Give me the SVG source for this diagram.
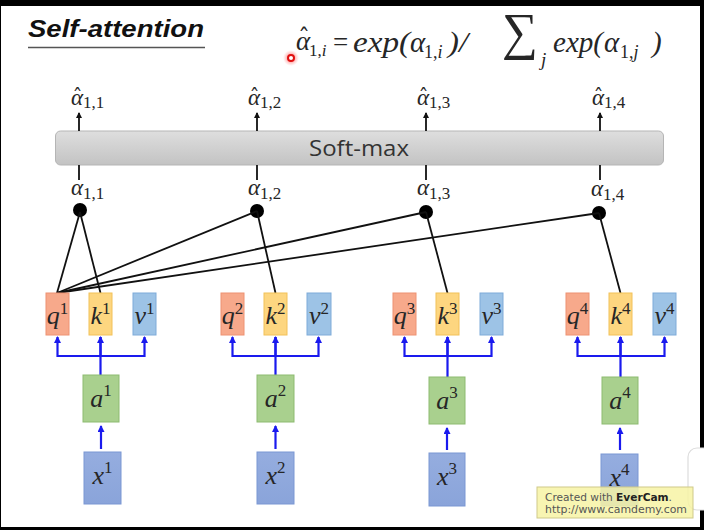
<svg xmlns="http://www.w3.org/2000/svg" width="704" height="530" viewBox="0 0 704 530">
<defs>
<style>
.math{font-family:"Liberation Serif","DejaVu Serif",serif;font-style:italic;fill:#262626}
.sub{font-family:"Liberation Serif","DejaVu Serif",serif;font-style:normal;fill:#262626}
.hat{font-family:"DejaVu Serif",serif;font-style:normal;fill:#262626}
.lbl{font-family:"Liberation Serif","DejaVu Serif",serif;font-style:italic;font-size:26px;fill:#262626;text-anchor:middle}
.q{fill:#f7a98b;stroke:#ee9272;stroke-width:1}
.k{fill:#fdd680;stroke:#f2c158;stroke-width:1}
.v{fill:#9dc3e6;stroke:#7eabd9;stroke-width:1}
.a{fill:#a9d08e;stroke:#8dbb70;stroke-width:1}
.x{fill:url(#xg);stroke:#7b97d3;stroke-width:1}
.blk{stroke:#111;stroke-width:1.8;fill:none}
.blu{stroke:#1a1aee;stroke-width:2.2;fill:none}
.dot{fill:#000}
</style>
<linearGradient id="sg" x1="0" y1="0" x2="0" y2="1"><stop offset="0" stop-color="#dedede"/><stop offset="1" stop-color="#c3c3c3"/></linearGradient>
<linearGradient id="xg" x1="0" y1="0" x2="0" y2="1"><stop offset="0" stop-color="#95addf"/><stop offset="1" stop-color="#8aa4da"/></linearGradient>
<radialGradient id="glow"><stop offset="0.3" stop-color="#ff4040" stop-opacity="0.6"/><stop offset="1" stop-color="#ff8080" stop-opacity="0"/></radialGradient>
<marker id="ab" markerWidth="6" markerHeight="6" refX="5" refY="3" orient="auto" markerUnits="userSpaceOnUse"><path d="M0,0 L6,3 L0,6 z" fill="#111"/></marker>
<marker id="au" markerWidth="7" markerHeight="7" refX="6" refY="3.5" orient="auto" markerUnits="userSpaceOnUse"><path d="M0,0 L7,3.5 L0,7 z" fill="#1a1aee"/></marker>
</defs>
<rect x="0" y="0" width="704" height="530" fill="#000"/>
<rect x="1" y="6" width="699" height="521" fill="#fff"/>

<g id="title">
<text x="28" y="37" font-family="'Liberation Sans',Arial,sans-serif" font-weight="bold" font-style="italic" font-size="23" fill="#111" textLength="176" lengthAdjust="spacingAndGlyphs">Self-attention</text>
<line x1="28" y1="47.5" x2="205" y2="47.5" stroke="#555" stroke-width="1.6"/>
</g>

<g id="pointer">
<circle cx="291" cy="58" r="8" fill="url(#glow)"/>
<circle cx="291" cy="58" r="3" fill="#fff" stroke="#e01010" stroke-width="2"/>
</g>

<g id="formula">
<text class="math" x="296" y="50" font-size="27">α<tspan class="hat" x="298" y="46" font-size="24">ˆ</tspan><tspan class="sub" x="309" y="56" font-size="17">1,</tspan><tspan class="sub" style="font-style:italic" font-size="17">i</tspan></text>
<text class="sub" x="333" y="51" font-size="27">=</text>
<text class="math" x="353" y="52" font-size="29" textLength="57" lengthAdjust="spacingAndGlyphs">exp(</text>
<text class="math" x="410" y="52" font-size="29">α</text>
<text class="sub" x="424" y="58" font-size="18">1,<tspan style="font-style:italic">i</tspan></text>
<text class="math" x="448" y="52" font-size="29" textLength="20" lengthAdjust="spacingAndGlyphs">)/</text>
<text class="sub" x="502" y="49" font-size="52" font-family="'DejaVu Serif',serif" textLength="36" lengthAdjust="spacingAndGlyphs">∑</text>
<text class="math" x="541" y="66" font-size="19">j</text>
<text class="math" x="553" y="52" font-size="29" textLength="50" lengthAdjust="spacingAndGlyphs">exp(</text>
<text class="math" x="604" y="52" font-size="29">α</text>
<text class="sub" x="620" y="58" font-size="18">1,<tspan style="font-style:italic">j</tspan></text>
<text class="math" x="652" y="52" font-size="29">)</text>
</g>

<g id="outputs">
<text x="71" y="105"><tspan class="math" font-size="23">α</tspan><tspan class="sub" font-size="17" dy="3">1,1</tspan><tspan class="hat" x="72.5" y="104" font-size="20">ˆ</tspan></text>
<text x="248" y="105"><tspan class="math" font-size="23">α</tspan><tspan class="sub" font-size="17" dy="3">1,2</tspan><tspan class="hat" x="249.5" y="104" font-size="20">ˆ</tspan></text>
<text x="417" y="105"><tspan class="math" font-size="23">α</tspan><tspan class="sub" font-size="17" dy="3">1,3</tspan><tspan class="hat" x="418.5" y="104" font-size="20">ˆ</tspan></text>
<text x="592" y="105"><tspan class="math" font-size="23">α</tspan><tspan class="sub" font-size="17" dy="3">1,4</tspan><tspan class="hat" x="593.5" y="104" font-size="20">ˆ</tspan></text>
</g>

<g id="softmax">
<rect x="55.5" y="131" width="608" height="34" rx="5" fill="url(#sg)" stroke="#b5b5b5" stroke-width="1"/>
<text x="359" y="156" font-family="'Open Sans','Liberation Sans',sans-serif" font-size="21" fill="#333" text-anchor="middle" textLength="100" lengthAdjust="spacingAndGlyphs">Soft-max</text>
</g>

<g id="scores">
<text x="71" y="195"><tspan class="math" font-size="23">α</tspan><tspan class="sub" font-size="17" dy="4">1,1</tspan></text>
<text x="248" y="195"><tspan class="math" font-size="23">α</tspan><tspan class="sub" font-size="17" dy="4">1,2</tspan></text>
<text x="417" y="195"><tspan class="math" font-size="23">α</tspan><tspan class="sub" font-size="17" dy="4">1,3</tspan></text>
<text x="591" y="196"><tspan class="math" font-size="23">α</tspan><tspan class="sub" font-size="17" dy="4">1,4</tspan></text>
</g>

<g id="dot1"><circle class="dot" cx="80" cy="210" r="7"/></g>
<g id="dot2"><circle class="dot" cx="257" cy="211" r="7"/></g>
<g id="dot3"><circle class="dot" cx="426" cy="212" r="7"/></g>
<g id="dot4"><circle class="dot" cx="599" cy="213" r="7"/></g>

<g id="connectors">
<line class="blk" x1="79" y1="131" x2="79" y2="113" marker-end="url(#ab)"/>
<line class="blk" x1="257" y1="131" x2="257" y2="113" marker-end="url(#ab)"/>
<line class="blk" x1="426" y1="131" x2="426" y2="113" marker-end="url(#ab)"/>
<line class="blk" x1="600" y1="131" x2="600" y2="113" marker-end="url(#ab)"/>
<line class="blk" x1="79" y1="165" x2="79" y2="180"/>
<line class="blk" x1="257" y1="165" x2="257" y2="180"/>
<line class="blk" x1="426" y1="165" x2="426" y2="180"/>
<line class="blk" x1="600" y1="165" x2="600" y2="180"/>

<line class="blk" x1="57" y1="293" x2="80" y2="212"/>
<line class="blk" x1="57" y1="293" x2="257" y2="211"/>
<line class="blk" x1="57" y1="293" x2="426" y2="212"/>
<line class="blk" x1="57" y1="293" x2="599" y2="213"/>
<line class="blk" x1="100.5" y1="293" x2="80" y2="212"/>
<line class="blk" x1="275.5" y1="293" x2="257" y2="211"/>
<line class="blk" x1="447.5" y1="293" x2="426" y2="212"/>
<line class="blk" x1="620.5" y1="293" x2="599" y2="213"/>

<path class="blu" d="M57.5,356 H144.5 M100.5,376 V337"/>
<line class="blu" x1="57.5" y1="357" x2="57.5" y2="337" marker-end="url(#au)"/>
<line class="blu" x1="100.5" y1="356" x2="100.5" y2="337" marker-end="url(#au)"/>
<line class="blu" x1="144.5" y1="357" x2="144.5" y2="337" marker-end="url(#au)"/>
<path class="blu" d="M232.5,356 H318.5 M275.5,376 V337"/>
<line class="blu" x1="232.5" y1="357" x2="232.5" y2="337" marker-end="url(#au)"/>
<line class="blu" x1="275.5" y1="356" x2="275.5" y2="337" marker-end="url(#au)"/>
<line class="blu" x1="318.5" y1="357" x2="318.5" y2="337" marker-end="url(#au)"/>
<path class="blu" d="M404.5,356 H491.5 M447.5,377 V337"/>
<line class="blu" x1="404.5" y1="357" x2="404.5" y2="337" marker-end="url(#au)"/>
<line class="blu" x1="447.5" y1="356" x2="447.5" y2="337" marker-end="url(#au)"/>
<line class="blu" x1="491.5" y1="357" x2="491.5" y2="337" marker-end="url(#au)"/>
<path class="blu" d="M577.5,356 H664.5 M620.5,377 V337"/>
<line class="blu" x1="577.5" y1="357" x2="577.5" y2="337" marker-end="url(#au)"/>
<line class="blu" x1="620.5" y1="356" x2="620.5" y2="337" marker-end="url(#au)"/>
<line class="blu" x1="664.5" y1="357" x2="664.5" y2="337" marker-end="url(#au)"/>

<line class="blu" x1="101" y1="449" x2="101" y2="426" marker-end="url(#au)"/>
<line class="blu" x1="275.5" y1="449" x2="275.5" y2="426" marker-end="url(#au)"/>
<line class="blu" x1="447" y1="450" x2="447" y2="428" marker-end="url(#au)"/>
<line class="blu" x1="620" y1="450" x2="620" y2="428" marker-end="url(#au)"/>
</g>

<g id="q1"><rect class="q" x="46" y="293" width="23" height="42"/><text class="lbl" x="57.5" y="324">q<tspan class="sub" font-size="17" dy="-10">1</tspan></text></g>
<g id="k1"><rect class="k" x="89" y="293" width="23" height="42"/><text class="lbl" x="100.5" y="324">k<tspan class="sub" font-size="17" dy="-10">1</tspan></text></g>
<g id="v1"><rect class="v" x="133" y="293" width="23" height="42"/><text class="lbl" x="144.5" y="324">v<tspan class="sub" font-size="17" dy="-10">1</tspan></text></g>
<g id="q2"><rect class="q" x="221" y="293" width="23" height="42"/><text class="lbl" x="232.5" y="324">q<tspan class="sub" font-size="17" dy="-10">2</tspan></text></g>
<g id="k2"><rect class="k" x="264" y="293" width="23" height="42"/><text class="lbl" x="275.5" y="324">k<tspan class="sub" font-size="17" dy="-10">2</tspan></text></g>
<g id="v2"><rect class="v" x="307" y="293" width="24" height="42"/><text class="lbl" x="319" y="324">v<tspan class="sub" font-size="17" dy="-10">2</tspan></text></g>
<g id="q3"><rect class="q" x="393" y="293" width="23" height="42"/><text class="lbl" x="404.5" y="324">q<tspan class="sub" font-size="17" dy="-10">3</tspan></text></g>
<g id="k3"><rect class="k" x="436" y="293" width="23" height="42"/><text class="lbl" x="447.5" y="324">k<tspan class="sub" font-size="17" dy="-10">3</tspan></text></g>
<g id="v3"><rect class="v" x="480" y="293" width="23" height="42"/><text class="lbl" x="491.5" y="324">v<tspan class="sub" font-size="17" dy="-10">3</tspan></text></g>
<g id="q4"><rect class="q" x="566" y="293" width="23" height="42"/><text class="lbl" x="577.5" y="324">q<tspan class="sub" font-size="17" dy="-10">4</tspan></text></g>
<g id="k4"><rect class="k" x="609" y="293" width="23" height="42"/><text class="lbl" x="620.5" y="324">k<tspan class="sub" font-size="17" dy="-10">4</tspan></text></g>
<g id="v4"><rect class="v" x="653" y="293" width="23" height="42"/><text class="lbl" x="664.5" y="324">v<tspan class="sub" font-size="17" dy="-10">4</tspan></text></g>

<g id="a1"><rect class="a" x="83" y="375" width="36" height="47"/><text class="lbl" x="101" y="407">a<tspan class="sub" font-size="17" dy="-11">1</tspan></text></g>
<g id="a2"><rect class="a" x="257" y="375" width="37" height="47"/><text class="lbl" x="275.5" y="407">a<tspan class="sub" font-size="17" dy="-11">2</tspan></text></g>
<g id="a3"><rect class="a" x="429" y="377" width="36" height="47"/><text class="lbl" x="447" y="409">a<tspan class="sub" font-size="17" dy="-11">3</tspan></text></g>
<g id="a4"><rect class="a" x="602" y="377" width="36" height="47"/><text class="lbl" x="620" y="409">a<tspan class="sub" font-size="17" dy="-11">4</tspan></text></g>

<g id="x1"><rect class="x" x="84" y="452" width="37" height="52"/><text class="lbl" x="102.5" y="484">x<tspan class="sub" font-size="17" dy="-11">1</tspan></text></g>
<g id="x2"><rect class="x" x="257" y="452" width="37" height="52"/><text class="lbl" x="275.5" y="484">x<tspan class="sub" font-size="17" dy="-11">2</tspan></text></g>
<g id="x3"><rect class="x" x="429" y="453" width="36" height="53"/><text class="lbl" x="447" y="485">x<tspan class="sub" font-size="17" dy="-11">3</tspan></text></g>
<g id="x4"><rect class="x" x="601" y="454" width="37" height="52"/><text class="lbl" x="619.5" y="486">x<tspan class="sub" font-size="17" dy="-11">4</tspan></text></g>

<g id="side-panel"><rect x="688" y="448" width="24" height="62" rx="9" fill="#fff" stroke="#dcdcdc" stroke-width="1.2"/></g>

<g id="watermark">
<rect x="537" y="487" width="156" height="31" fill="#f7f3a4" fill-opacity="0.85" stroke="#cfc98a" stroke-width="1"/>
<text x="545" y="501" font-family="'DejaVu Sans','Liberation Sans',sans-serif" font-size="10" fill="#555" textLength="127" lengthAdjust="spacingAndGlyphs">Created with <tspan font-weight="bold" fill="#222">EverCam</tspan>.</text>
<text x="545" y="513" font-family="'DejaVu Sans','Liberation Sans',sans-serif" font-size="10" fill="#555" textLength="142" lengthAdjust="spacingAndGlyphs">http://www.camdemy.com</text>
</g>
</svg>
